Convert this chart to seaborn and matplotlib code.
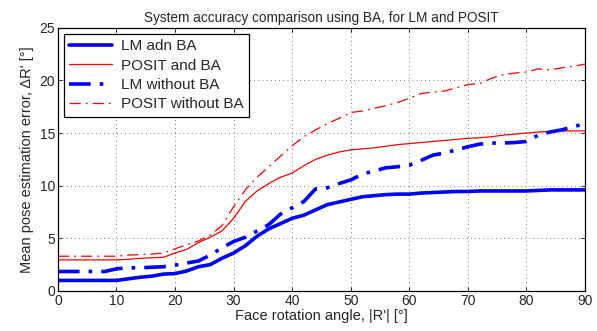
import numpy as np
import pandas as pd
import seaborn as sns
import matplotlib
matplotlib.use("Agg")
import matplotlib.pyplot as plt

# face rotation angle (deg)
angle = list(range(0, 91, 2))

# mean pose estimation error per method
lm_ba = [1.0, 1.0, 1.0, 1.0, 1.0, 1.0, 1.15, 1.3, 1.4, 1.6, 1.65, 1.9, 2.3, 2.5, 3.1,
         3.6, 4.3, 5.2, 5.9, 6.4, 6.9, 7.2, 7.7, 8.2, 8.45, 8.7, 8.95, 9.05, 9.15, 9.2,
         9.2, 9.3, 9.35, 9.4, 9.45, 9.45, 9.5, 9.5, 9.5, 9.5, 9.5, 9.55, 9.6, 9.6, 9.6, 9.6]
posit_ba = [2.95, 2.95, 2.95, 2.95, 2.95, 2.95, 3.0, 3.1, 3.15, 3.2, 3.6, 3.95, 4.6, 5.1,
            5.7, 6.9, 8.5, 9.5, 10.2, 10.8, 11.2, 11.9, 12.5, 12.9, 13.2, 13.4, 13.5, 13.6,
            13.75, 13.9, 14.0, 14.1, 14.2, 14.3, 14.4, 14.5, 14.55, 14.65, 14.8, 14.9, 15.0,
            15.1, 15.15, 15.2, 15.2, 15.2]
lm_nba = [1.85, 1.85, 1.85, 1.85, 1.85, 2.1, 2.2, 2.2, 2.25, 2.3, 2.45, 2.65, 2.85, 3.4,
          4.1, 4.7, 5.1, 5.7, 6.3, 7.3, 7.9, 8.5, 9.7, 9.8, 10.2, 10.55, 11.1, 11.4, 11.7,
          11.8, 11.95, 12.4, 12.9, 13.1, 13.4, 13.7, 13.95, 14.05, 14.05, 14.1, 14.2, 14.8,
          15.1, 15.3, 15.6, 15.9]
posit_nba = [3.3, 3.3, 3.3, 3.3, 3.3, 3.3, 3.4, 3.45, 3.5, 3.6, 4.0, 4.4, 4.75, 5.3, 6.2,
             8.0, 9.6, 10.8, 11.8, 12.8, 13.8, 14.65, 15.3, 15.9, 16.4, 16.95, 17.1, 17.35,
             17.6, 17.9, 18.3, 18.75, 18.9, 19.0, 19.3, 19.6, 19.7, 20.2, 20.55, 20.7, 20.8,
             21.1, 21.0, 21.2, 21.35, 21.55]

sns.set_style("ticks")
plt.rcParams['font.family'] = ['Liberation Sans', 'DejaVu Sans']
plt.rcParams['xtick.direction'] = 'in'
plt.rcParams['ytick.direction'] = 'in'

fig = plt.figure(figsize=(5.97, 3.31), dpi=100)
ax = fig.add_axes([0.097, 0.121, 0.883, 0.795])

sns.lineplot(x=angle, y=lm_ba, ax=ax, color="blue", lw=2.6, label="LM adn BA")
sns.lineplot(x=angle, y=posit_ba, ax=ax, color="red", lw=0.9, label="POSIT and BA")
sns.lineplot(x=angle, y=lm_nba, ax=ax, color="blue", lw=2.6, label="LM without BA")
sns.lineplot(x=angle, y=posit_nba, ax=ax, color="red", lw=0.9, label="POSIT without BA")
ax.lines[2].set_dashes([6, 2.5, 1, 2.5])
ax.lines[3].set_dashes([9, 4, 1.5, 4])

ax.set_xlim(0, 90)
ax.set_ylim(0, 25)
ax.set_xticks(range(0, 91, 10))
ax.set_yticks(range(0, 26, 5))
ax.tick_params(labelsize=10, top=True, right=True, length=3, width=0.7, pad=2)
ax.grid(True, linestyle=(0, (1, 5)), color="black", linewidth=0.5)
for s in ax.spines.values():
    s.set_linewidth(0.9)
    s.set_color("black")

ax.set_xlabel("Face rotation angle, |R'| [°]", fontsize=10.5, labelpad=1)
ax.set_ylabel("Mean pose estimation error, ΔR' [°]", fontsize=10.5, labelpad=4)
ax.set_title("System accuracy comparison using BA, for LM and POSIT", fontsize=9.8, pad=4)

# legend lines
handles = ax.get_legend_handles_labels()[0]
handles[2].set_dashes([6, 2.5, 1, 2.5])
handles[3].set_dashes([9, 4, 1.5, 4])
leg = ax.legend(loc="upper left", fontsize=11, handlelength=2.8, fancybox=False,
                framealpha=1, edgecolor="black", borderaxespad=0.4,
                labelspacing=0.35, borderpad=0.35, handletextpad=0.6)
leg.get_frame().set_linewidth(0.9)

fig.savefig("out.png", dpi=100)
